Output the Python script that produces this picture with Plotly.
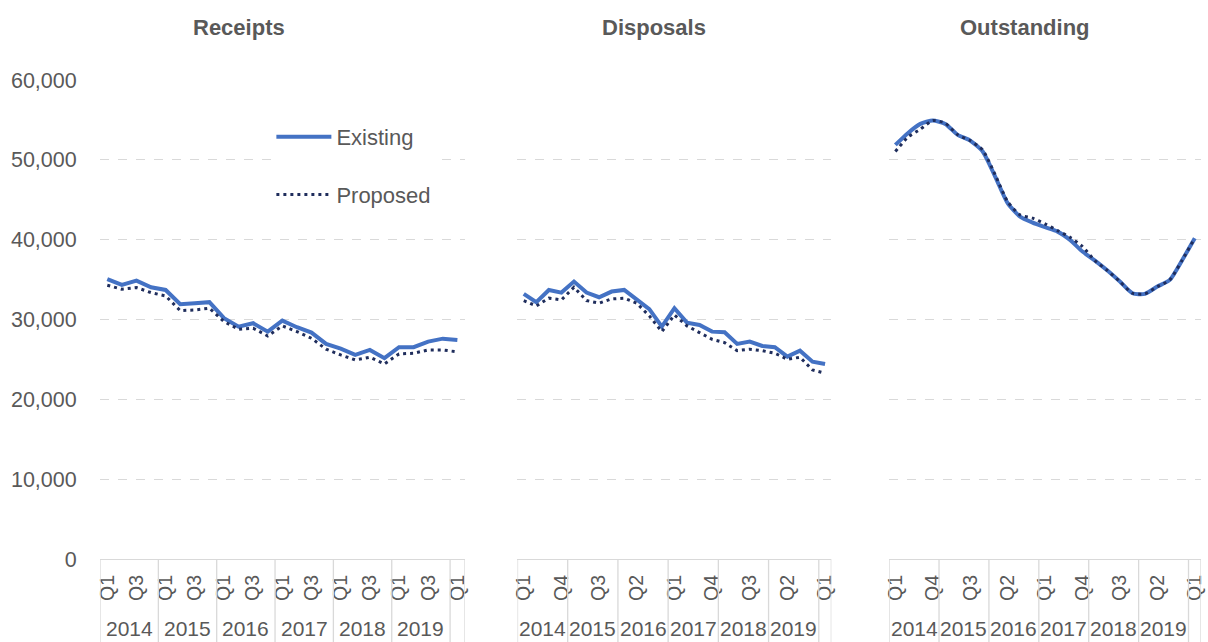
import plotly.graph_objects as go

quarter_labels = ["Q1", "Q2", "Q3", "Q4", "Q1", "Q2", "Q3", "Q4", "Q1", "Q2", "Q3", "Q4",
                  "Q1", "Q2", "Q3", "Q4", "Q1", "Q2", "Q3", "Q4", "Q1", "Q2", "Q3", "Q4", "Q1"]
year_labels = ["2014", "2015", "2016", "2017", "2018", "2019"]
panel_titles = ["Receipts", "Disposals", "Outstanding"]
y_ticks = [0, 10000, 20000, 30000, 40000, 50000, 60000]

receipts_existing = [35050, 34330, 34870, 34040, 33700, 31910, 32040, 32170, 30160, 29110,
                     29530, 28480, 29860, 29030, 28360, 26940, 26350, 25560, 26190, 25150,
                     26530, 26530, 27230, 27600, 27440]
receipts_proposed = [34290, 33790, 34000, 33370, 32950, 31110, 31200, 31410, 29730, 28780,
                     28910, 27940, 29200, 28480, 27650, 26280, 25560, 24940, 25270, 24430,
                     25690, 25770, 26190, 26190, 25940]
disposals_existing = [33200, 32160, 33700, 33370, 34750, 33370, 32790, 33500, 33700, 32450,
                      31290, 29110, 31410, 29610, 29320, 28480, 28400, 26940, 27230, 26690,
                      26530, 25350, 26100, 24720, 24430]
disposals_proposed = [32370, 31700, 32670, 32450, 34040, 32370, 32040, 32580, 32670, 32040,
                      30450, 28480, 30570, 29200, 28360, 27520, 27100, 26100, 26280, 26100,
                      25770, 25020, 25270, 23680, 23270]
outstanding_existing = [51870, 53340, 54500, 54920, 54500, 53130, 52410, 51040, 47900, 44570,
                        42890, 42140, 41560, 41010, 39970, 38510, 37380, 36130, 34750, 33290,
                        33210, 34120, 34960, 37460, 40180]
outstanding_proposed = [51040, 52840, 53840, 54920, 54590, 53130, 52410, 51230, 48120, 44770,
                        43100, 42690, 41980, 41140, 40310, 39140, 37380, 36130, 34750, 33290,
                        33210, 34120, 34960, 37460, 40180]

existing_series = [receipts_existing, disposals_existing, outstanding_existing]
proposed_series = [receipts_proposed, disposals_proposed, outstanding_proposed]

EXIST_COLOR = "#4472C4"
PROP_COLOR = "#1F2D5C"
GRID = "#D9D9D9"
TEXT = "#595959"
FONT = "Liberation Sans, Arial, sans-serif"

W, H = 1208, 642
ML, MR, MT, MB = 100, 3, 80, 83
pw = W - ML - MR
ph = H - MT - MB


def px_x(px):
    return (px - ML) / pw


def px_y(py):
    return (H - MB - py) / ph


domains = [[px_x(100), px_x(466)], [px_x(519), px_x(834)], [px_x(892), px_x(1205)]]
title_x = [240, 656, 1028]
tick_steps = [2, 3, 3]
x_idx = list(range(len(quarter_labels)))

fig = go.Figure()

for p in range(3):
    xa = "x" if p == 0 else f"x{p+1}"
    ya = "y" if p == 0 else f"y{p+1}"
    shape = "spline" if p == 2 else "linear"
    fig.add_trace(go.Scatter(
        x=x_idx, y=existing_series[p], xaxis=xa, yaxis=ya, mode="lines",
        name="Existing", legendgroup="e", showlegend=(p == 0),
        line=dict(color=EXIST_COLOR, width=4, shape=shape, smoothing=0.6),
        hoverinfo="skip"))
    fig.add_trace(go.Scatter(
        x=x_idx, y=proposed_series[p], xaxis=xa, yaxis=ya, mode="lines",
        name="Proposed", legendgroup="p", showlegend=(p == 0),
        line=dict(color=PROP_COLOR, width=3, dash="3px,4px", shape=shape, smoothing=0.6),
        hoverinfo="skip"))

layout = dict(
    width=W, height=H,
    margin=dict(l=ML, r=MR, t=MT, b=MB, pad=0),
    paper_bgcolor="white", plot_bgcolor="white",
    font=dict(family=FONT, size=21, color=TEXT),
    showlegend=True,
    legend=dict(
        x=px_x(272), y=px_y(116), xanchor="left", yanchor="top",
        bgcolor="white", borderwidth=0, itemwidth=55,
        traceorder="grouped", tracegroupgap=26,
        font=dict(family=FONT, size=22, color=TEXT),
        itemclick=False, itemdoubleclick=False),
)

annotations = []
shapes = []
for p in range(3):
    xk = "xaxis" if p == 0 else f"xaxis{p+1}"
    yk = "yaxis" if p == 0 else f"yaxis{p+1}"
    xref = "x" if p == 0 else f"x{p+1}"
    step = tick_steps[p]
    tv = x_idx[::step]
    tt = [quarter_labels[i] for i in tv]
    layout[xk] = dict(
        domain=domains[p], anchor="y" if p == 0 else f"y{p+1}",
        range=[-0.5, len(quarter_labels) - 0.5],
        tickmode="array", tickvals=tv, ticktext=tt, tickangle=-90,
        ticks="outside", ticklen=7, tickcolor="rgba(0,0,0,0)",
        tickfont=dict(family=FONT, size=19.5, color=TEXT),
        showline=True, linecolor=GRID, linewidth=1.3,
        showgrid=False, zeroline=False, fixedrange=True)
    layout[yk] = dict(
        domain=[0, 1], anchor=xref,
        range=[0, 60000], tickmode="array", tickvals=y_ticks,
        ticktext=[f"{v:,}" for v in y_ticks],
        showticklabels=(p == 0),
        ticks="outside" if p == 0 else "", ticklen=18, tickcolor="rgba(0,0,0,0)",
        tickfont=dict(family=FONT, size=21.5, color=TEXT),
        showgrid=True, gridcolor=GRID, griddash="dash", gridwidth=1,
        zeroline=False, showline=False, fixedrange=True)

    # panel title
    annotations.append(dict(
        text=f"<b>{panel_titles[p]}</b>", x=px_x(title_x[p]), y=px_y(27),
        xref="paper", yref="paper", showarrow=False, xanchor="center", yanchor="middle",
        font=dict(family=FONT, size=22, color=TEXT)))

    # year group labels and dividers
    for k, yr in enumerate(year_labels):
        annotations.append(dict(
            text=yr, x=4 * k + 1.5, y=px_y(628.5), xref=xref, yref="paper",
            showarrow=False, xanchor="center", yanchor="middle",
            font=dict(family=FONT, size=21, color=TEXT)))
    bounds = [4 * k - 0.5 for k in range(len(year_labels) + 1)] + [len(quarter_labels) - 0.5]
    for b in bounds:
        shapes.append(dict(
            type="line", xref=xref, yref="paper", x0=b, x1=b, y0=0, y1=px_y(645),
            line=dict(color=GRID, width=1.3)))

layout["annotations"] = annotations
layout["shapes"] = shapes
fig.update_layout(**layout)

fig.write_html(
    "out.html",
    config={"displayModeBar": False, "staticPlot": False},
    post_script="document.body.style.margin='0';document.body.style.padding='0';"
                "document.body.style.overflow='hidden';")
